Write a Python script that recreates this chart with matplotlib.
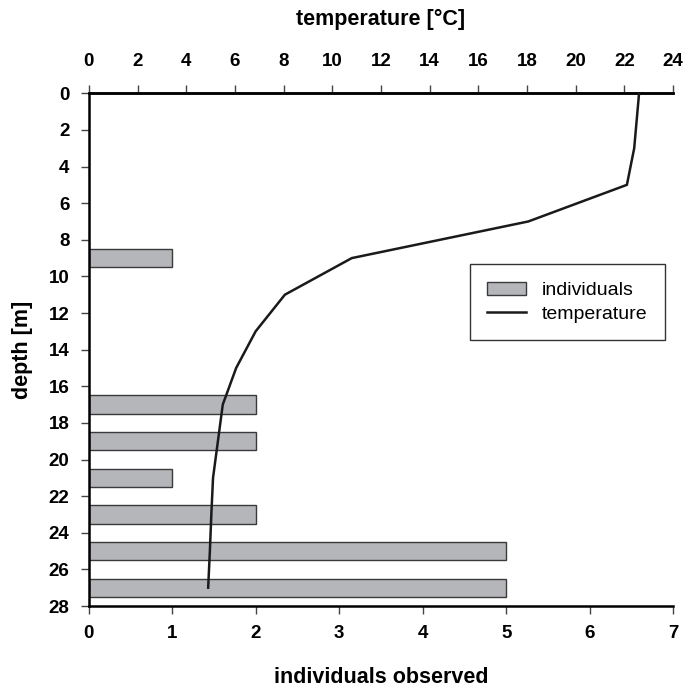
import matplotlib.pyplot as plt

plt.rcParams['font.family'] = ['Liberation Sans', 'DejaVu Sans']

# individuals observed per depth
bar_depth = [9, 17, 19, 21, 23, 25, 27]
individuals = [1, 2, 2, 1, 2, 5, 5]

# temperature profile
temp_depth = [0, 3, 5, 7, 9, 11, 13, 15, 17, 19, 21, 23, 25, 27]
temperature = [22.6, 22.4, 22.1, 18.05, 10.8, 8.05, 6.85, 6.05, 5.5, 5.3, 5.1, 5.03, 4.97, 4.9]

fig = plt.figure(figsize=(6.89, 6.91), dpi=100)
ax = fig.add_axes([0.129, 0.123, 0.848, 0.742])

ax.barh(bar_depth, individuals, height=1.0, color='#b5b6b9', edgecolor='#3a3a3a',
        linewidth=1.0, label='individuals', zorder=2)
ax.set_xlim(0, 7)
ax.set_ylim(28, 0)
ax.set_yticks(range(0, 29, 2))
ax.set_xticks(range(0, 8))
ax.set_xlabel('individuals observed', fontsize=15.5, fontweight='bold', labelpad=18)
ax.set_ylabel('depth [m]', fontsize=15.5, fontweight='bold', labelpad=11)

ax2 = ax.twiny()
ax2.plot(temperature, temp_depth, color='#1a1a1a', lw=1.8, label='temperature', zorder=3)
ax2.set_xlim(0, 24)
ax2.set_xticks(range(0, 25, 2))
ax2.set_xlabel('temperature [°C]', fontsize=15.5, fontweight='bold', labelpad=20)

for a in (ax, ax2):
    a.spines['right'].set_visible(False)
    a.spines['top'].set_linewidth(1.8)
    a.spines['bottom'].set_linewidth(1.8)
    a.spines['left'].set_linewidth(1.8)
    a.tick_params(labelsize=13.5, length=6, width=1.0, color='#444')
    for lab in a.get_xticklabels() + a.get_yticklabels():
        lab.set_fontweight('bold')
ax.tick_params(axis='x', pad=8)
ax.tick_params(axis='y', pad=8)
ax2.tick_params(axis='x', pad=11)
ax2.spines['bottom'].set_visible(False)
ax2.spines['left'].set_visible(False)

h1, l1 = ax.get_legend_handles_labels()
h2, l2 = ax2.get_legend_handles_labels()
leg = ax2.legend(h1 + h2, l1 + l2, loc='upper left', bbox_to_anchor=(0.652, 0.667),
                 borderaxespad=0, fontsize=14, fancybox=False, edgecolor='#333', framealpha=1,
                 handlelength=2.0, borderpad=0.9, labelspacing=0.3)
leg.get_frame().set_linewidth(1.0)

fig.savefig('out.png', dpi=100)
